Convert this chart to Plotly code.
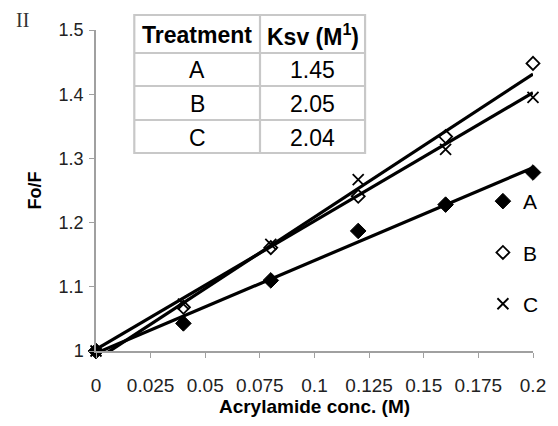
import numpy as np
import plotly.graph_objects as go

conc = [0, 0.04, 0.08, 0.12, 0.16, 0.2]
fo_f_A = [1.0, 1.043, 1.110, 1.187, 1.228, 1.278]
fo_f_B = [1.0, 1.068, 1.161, 1.241, 1.334, 1.448]
fo_f_C = [1.0, 1.073, 1.166, 1.267, 1.314, 1.395]

treatments = ["A", "B", "C"]
ksv_values = ["1.45", "2.05", "2.04"]
table_header = ["<b>Treatment</b>", "<b>Ksv (M<sup>1</sup>)</b>"]

x_ticks = [0, 0.025, 0.05, 0.075, 0.1, 0.125, 0.15, 0.175, 0.2]
x_ticklabels = ["0", "0.025", "0.05", "0.075", "0.1", "0.125", "0.15", "0.175", "0.2"]
y_ticks = [1, 1.1, 1.2, 1.3, 1.4, 1.5]
y_ticklabels = ["1", "1.1", "1.2", "1.3", "1.4", "1.5"]

W, H = 558, 426
L, R, T, B = 96, 17, 30, 75
PW, PH = W - L - R, H - T - B


def px(xp):
    return (xp - L) / PW


def py(yp):
    return (H - B - yp) / PH


FONT = "Arial, Liberation Sans, sans-serif"

fig = go.Figure()

series = [
    ("A", fo_f_A, dict(symbol="diamond", size=12, color="black", line=dict(color="black", width=1))),
    ("B", fo_f_B, dict(symbol="diamond-open", size=10, color="black", line=dict(color="black", width=1.8))),
    ("C", fo_f_C, dict(symbol="x-thin-open", size=11, color="black", line=dict(color="black", width=1.8))),
]

xs = np.array(conc)
for name, ys, mk in series:
    slope, icpt = np.polyfit(xs, np.array(ys), 1)
    xl = np.array([xs.min(), xs.max()])
    fig.add_trace(go.Scatter(x=xl, y=slope * xl + icpt, mode="lines",
                             line=dict(color="black", width=3.2), showlegend=False,
                             hoverinfo="skip", cliponaxis=False))

for name, ys, mk in series:
    fig.add_trace(go.Scatter(x=conc, y=ys, mode="markers", name=name, marker=mk,
                             legendgroup=name, cliponaxis=False))

# Inset table (Ksv values) drawn with shapes + annotations
tbl_left, tbl_mid, tbl_right = 135, 263, 370
row_edges = [15, 53, 86, 120, 153]
grid = "#c8c8c8"
shapes = [dict(type="rect", xref="paper", yref="paper",
               x0=px(tbl_left), x1=px(tbl_right), y0=py(row_edges[-1]), y1=py(row_edges[0]),
               fillcolor="white", line=dict(color=grid, width=2.2), layer="above")]
shapes.append(dict(type="line", xref="paper", yref="paper",
                   x0=px(tbl_mid), x1=px(tbl_mid), y0=py(row_edges[-1]), y1=py(row_edges[0]),
                   line=dict(color=grid, width=2.2), layer="above"))
for ry in row_edges[1:-1]:
    shapes.append(dict(type="line", xref="paper", yref="paper",
                       x0=px(tbl_left), x1=px(tbl_right), y0=py(ry), y1=py(ry),
                       line=dict(color=grid, width=2.2), layer="above"))

col_centers = [(tbl_left + tbl_mid) / 2, (tbl_mid + tbl_right) / 2]
annotations = []
hy = (row_edges[0] + row_edges[1]) / 2 + 1
for cx, txt in zip(col_centers, table_header):
    annotations.append(dict(text=txt, x=px(cx), y=py(hy), xref="paper", yref="paper",
                            xanchor="center", yanchor="middle", showarrow=False,
                            font=dict(family=FONT, size=23, color="black")))
for i, (t, k) in enumerate(zip(treatments, ksv_values)):
    ry = (row_edges[i + 1] + row_edges[i + 2]) / 2 + 1
    for cx, txt in zip(col_centers, [t, k]):
        annotations.append(dict(text=txt, x=px(cx), y=py(ry), xref="paper", yref="paper",
                                xanchor="center", yanchor="middle", showarrow=False,
                                font=dict(family=FONT, size=23, color="black")))

annotations.append(dict(text="II", x=px(12), y=py(20), xref="paper", yref="paper",
                        xanchor="left", yanchor="middle", showarrow=False,
                        font=dict(family="Liberation Serif, Times New Roman, serif", size=20,
                                  color="#333333")))

fig.update_layout(
    width=W, height=H,
    margin=dict(l=L, r=R, t=T, b=B),
    plot_bgcolor="white", paper_bgcolor="white",
    font=dict(family=FONT, color="black"),
    showlegend=True,
    legend=dict(x=px(490), y=py(181), xanchor="left", yanchor="top",
                bgcolor="rgba(0,0,0,0)", tracegroupgap=21,
                font=dict(size=21, color="black"), itemwidth=30),
    xaxis=dict(range=[0, 0.2], tickvals=x_ticks, ticktext=x_ticklabels,
               showgrid=False, zeroline=False, showline=True, linecolor="#a0a0a0",
               linewidth=1.5, ticks="outside", ticklen=5, tickcolor="#a0a0a0",
               ticklabelstandoff=11,
               tickfont=dict(size=19, color="#222222"),
               title=dict(text="<b>Acrylamide conc. (M)</b>", font=dict(size=19), standoff=5)),
    yaxis=dict(range=[1, 1.5], tickvals=y_ticks, ticktext=y_ticklabels,
               showgrid=False, zeroline=False, showline=True, linecolor="#a0a0a0",
               linewidth=1.5, ticks="outside", ticklen=5, tickcolor="#a0a0a0",
               ticklabelstandoff=2,
               tickfont=dict(size=18, color="#222222"),
               title=dict(text="<b>Fo/F</b>", font=dict(size=18), standoff=12)),
    shapes=shapes,
    annotations=annotations,
)

fig.write_html("out.html")
